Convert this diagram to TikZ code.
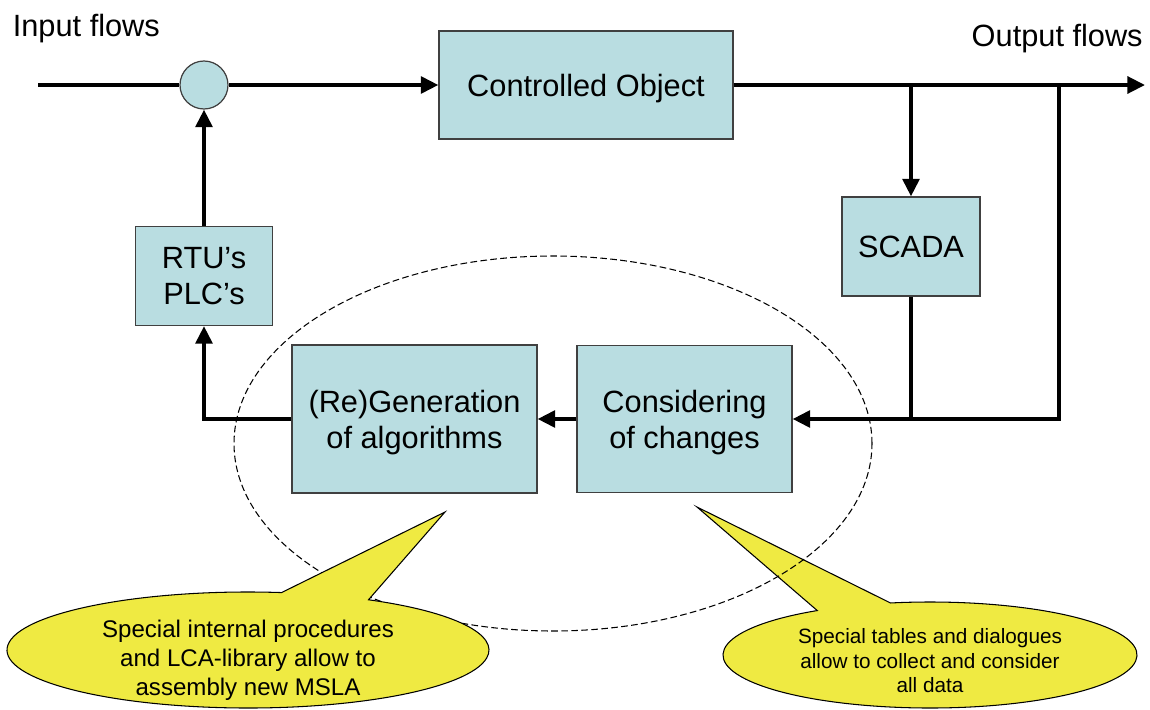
\documentclass[tikz,border=0pt]{standalone}
\usepackage{fontspec}
\setmainfont{Liberation Sans}
\usetikzlibrary{arrows.meta}
\definecolor{boxblue}{RGB}{185,221,225}
\definecolor{boxline}{RGB}{64,64,64}
\definecolor{noteyellow}{RGB}{239,234,66}
\begin{document}
\begin{tikzpicture}
    [block/.style={rectangle,draw=boxline,line width=0.7pt,fill=boxblue,align=center,inner sep=0pt,text depth=0pt,font=\fontsize{17.5}{20.5}\selectfont},
     label/.style={inner sep=0pt,font=\fontsize{17.5}{20.5}\selectfont},
     line/.style={line width=2.2pt},
     flow/.style={line width=2.2pt,-{Triangle[length=10pt,width=9.5pt]}},
     bubble/.style={draw=black,line width=0.6pt,fill=noteyellow}]
    \useasboundingbox (0,0) rectangle (23,-14.2);
    \node (input) at (0.25,-0.72) [label,anchor=base west] {Input flows};
    \node (output) at (22.86,-0.93) [label,anchor=base east] {Output flows};
    \node (sum) at (4.08,-1.7) [circle,draw=boxline,line width=0.7pt,fill=boxblue,inner sep=0pt,minimum size=0.96cm] {};
    \node (object) at (11.72,-1.7) [block,minimum width=5.88cm,minimum height=2.16cm] {Controlled Object};
    \node (scada) at (18.22,-4.93) [block,minimum width=2.76cm,minimum height=1.98cm] {SCADA};
    \node (rtu) at (4.08,-5.52) [block,minimum width=2.74cm,minimum height=1.98cm] {RTU’s\\PLC’s};
    \node (regen) at (8.29,-8.38) [block,minimum width=4.9cm,minimum height=2.96cm] {(Re)Generation\\of algorithms};
    \node (consider) at (13.69,-8.38) [block,minimum width=4.3cm,minimum height=2.95cm] {Considering\\of changes};
    \coordinate (in) at (0.76,-1.7);
    \coordinate (out) at (22.9,-1.7);
    \coordinate (tap1) at (18.22,-1.7);
    \coordinate (tap2) at (21.18,-1.7);
    \coordinate (join) at (18.22,-8.38);
    % forward path
    \draw [line] (in) to (sum);
    \draw [flow] (sum) to (object);
    \draw [flow] (object) to (out);
    % measuring and feedback
    \draw [flow] (tap1) to (scada);
    \draw [line] (scada) to (join);
    \draw [flow] (tap2) |- (consider);
    \draw [flow] (consider) to (regen);
    \draw [flow] (regen) -| (rtu);
    \draw [flow] (rtu) to (sum);
    % notes
    \draw [bubble] (18.6,-13.1) ++(123:4.14 and 1.06)
      arc [start angle=123,end angle=461,x radius=4.14,y radius=1.06] -- (13.94,-10.14) -- cycle;
    \node (note2) at (18.6,-13.22) [align=center,inner sep=0pt,font=\fontsize{11.8}{13.9}\selectfont]
      {Special tables and dialogues\\allow to collect and consider\\all data};
    \draw [dash pattern=on 3.8pt off 1.9pt,line width=0.6pt] (11.06,-8.87) ellipse [x radius=6.38,y radius=3.75];
    \draw [bubble] (4.96,-13.0) ++(82:4.82 and 1.16)
      arc [start angle=82,end angle=420,x radius=4.82,y radius=1.16] -- (8.9,-10.24) -- cycle;
    \node (note1) at (4.96,-13.2) [align=center,inner sep=0pt,font=\fontsize{13.7}{16.5}\selectfont]
      {Special internal procedures\\and LCA-library allow to\\assembly new MSLA};
\end{tikzpicture}
\end{document}
